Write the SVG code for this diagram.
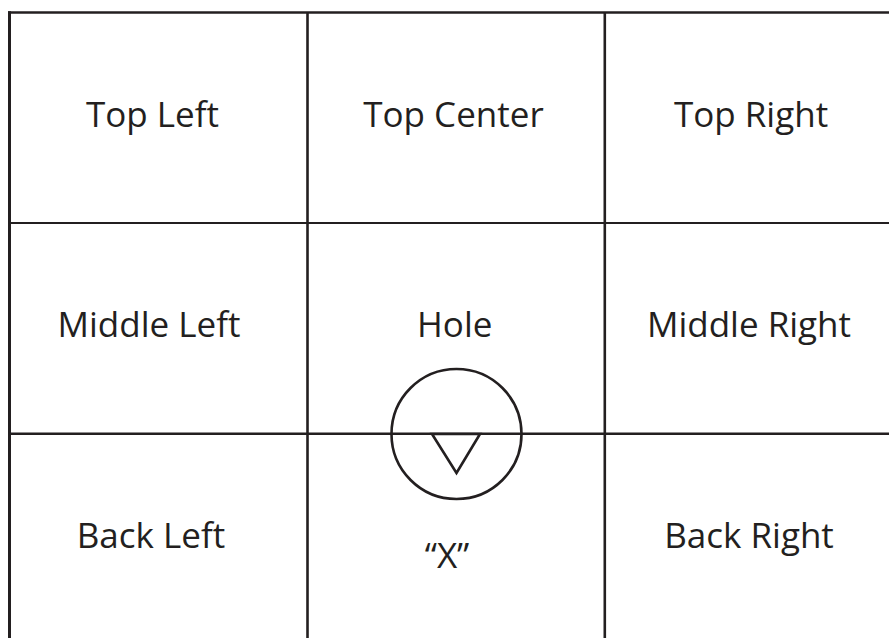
<svg xmlns="http://www.w3.org/2000/svg" width="889" height="638" viewBox="0 0 889 638">
<style>
.ln{stroke:#231f20;fill:none;stroke-linecap:butt}
.t{font-family:"Open Sans","Liberation Sans",sans-serif;font-size:35px;fill:#231f20;text-anchor:middle}
</style>
<rect width="889" height="638" fill="#ffffff"/>
<g id="grid">
<line class="ln" x1="9.5" y1="11.3" x2="9.5" y2="638" stroke-width="3"/>
<line class="ln" x1="8" y1="12.5" x2="889" y2="12.5" stroke-width="2.5"/>
<line class="ln" x1="307.5" y1="12" x2="307.5" y2="638" stroke-width="2.6"/>
<line class="ln" x1="604.8" y1="12" x2="604.8" y2="638" stroke-width="2.6"/>
<line class="ln" x1="9" y1="223" x2="889" y2="223" stroke-width="2.2"/>
<line class="ln" x1="9" y1="433.8" x2="889" y2="433.8" stroke-width="2.6"/>
</g>
<g id="top-left"><text class="t" x="152.5" y="127">Top Left</text></g>
<g id="top-center"><text class="t" x="453.5" y="127">Top Center</text></g>
<g id="top-right"><text class="t" x="751" y="127">Top Right</text></g>
<g id="middle-left"><text class="t" x="149" y="337">Middle Left</text></g>
<g id="hole"><text class="t" x="454.7" y="337">Hole</text>
<circle class="ln" cx="456.5" cy="434" r="65" stroke-width="2.6"/>
<polygon class="ln" points="432,434 480,434 456.5,473" stroke-width="2.6" stroke-linejoin="miter"/>
</g>
<g id="middle-right"><text class="t" x="749" y="337">Middle Right</text></g>
<g id="back-left"><text class="t" x="151" y="548">Back Left</text></g>
<g id="x"><text class="t" x="447" y="568">“X”</text></g>
<g id="back-right"><text class="t" x="749" y="548">Back Right</text></g>
</svg>
